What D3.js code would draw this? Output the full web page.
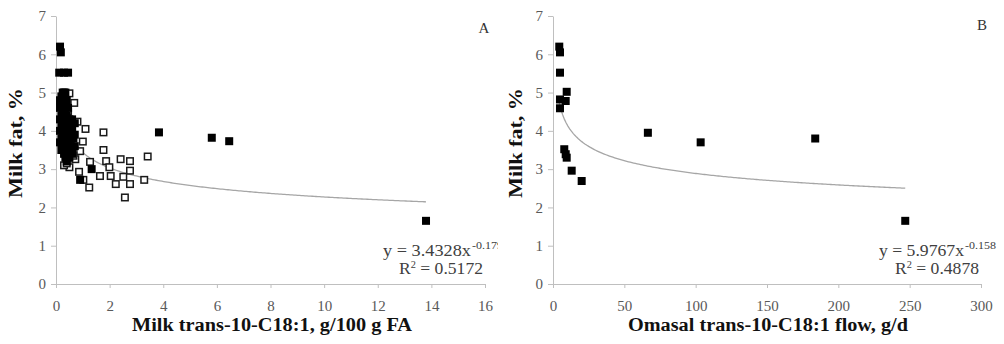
<!DOCTYPE html>
<html><head><meta charset="utf-8">
<script src="https://cdn.jsdelivr.net/npm/d3@7"></script>
<style>
html,body{margin:0;padding:0;background:#fff;}
svg{display:block;}
text{font-family:"Liberation Serif","Times New Roman",serif;}
</style></head>
<body>
<svg id="c" width="1004" height="344"></svg>
<script>
// ---------- DATA ----------
// Panel A: milk trans-10 C18:1 (g/100 g FA) vs milk fat (%)
const aFilledX = [0.15,0.18,0.12,0.3,0.45,
  0.25,0.3,0.35, 0.2,0.3, 0.15,0.25,0.4, 0.2,0.3, 0.15,0.35,0.45, 0.25,0.3, 0.2,0.4,
  0.15,0.3,0.5,0.6, 0.25,0.45,0.7, 0.2,0.35,0.55, 0.15,0.3,0.45,0.6, 0.25,0.4,0.7,
  0.2,0.35,0.5,0.65, 0.15,0.3,0.45, 0.25,0.4,0.55,0.7, 0.2,0.35,0.5, 0.3,0.45,0.6, 0.35,0.5, 0.4,
  0.9,1.33,3.84,5.81,6.46,13.8];
const aFilledY = [6.2,6.05,5.52,5.52,5.52,
  5.0,5.0,5.0, 4.9,4.9, 4.8,4.8,4.8, 4.7,4.7, 4.6,4.6,4.6, 4.5,4.5, 4.4,4.4,
  4.3,4.3,4.3,4.3, 4.2,4.2,4.2, 4.1,4.1,4.1, 4.0,4.0,4.0,4.0, 3.9,3.9,3.9,
  3.8,3.8,3.8,3.8, 3.7,3.7,3.7, 3.6,3.6,3.6,3.6, 3.5,3.5,3.5, 3.4,3.4,3.4, 3.3,3.3, 3.2,
  2.72,3.0,3.96,3.82,3.73,1.65];
const aOpenX = [0.5,0.68,0.8,1.1,1.77,1.0,1.77,0.9,3.42,2.41,2.76,1.87,1.27,0.72,0.5,1.99,
  2.76,1.64,2.04,0.86,2.51,2.23,2.76,3.29,1.24,2.57,1.02,0.6,0.45,0.3,0.55,0.65,0.4];
const aOpenY = [4.98,4.73,4.24,4.05,3.96,3.72,3.5,3.47,3.33,3.26,3.21,3.21,3.19,3.26,3.05,3.05,
  2.96,2.82,2.82,2.93,2.8,2.61,2.61,2.72,2.52,2.26,2.72,4.0,4.5,3.1,3.55,3.35,3.15];
// Panel B: omasal trans-10 C18:1 flow (g/d) vs milk fat (%)
const bX = [4.4,4.9,4.9,9.6,4.9,8.9,4.9,7.9,8.9,9.6,13.1,20.1,66.5,103.5,183.8,246.9];
const bY = [6.2,6.05,5.52,5.02,4.82,4.78,4.59,3.52,3.39,3.3,2.96,2.69,3.95,3.7,3.8,1.65];
// Fitted power trendlines (as printed on the chart)
const aFit = {a:3.4328, b:-0.179, r2:"0.5172", bText:"-0.179"};
const bFit = {a:5.9767, b:-0.158, r2:"0.4878", bText:"-0.158"};
// Axis ticks
const aXTicks = [0,2,4,6,8,10,12,14,16];
const bXTicks = [0,50,100,150,200,250,300];
const yTicks = [0,1,2,3,4,5,6,7];

// ---------- DRAW ----------
const svg = d3.select("#c");
const defs = svg.append("defs");
defs.append("clipPath").attr("id","clipA").append("rect").attr("x",0).attr("y",0).attr("width",498).attr("height",344);
defs.append("clipPath").attr("id","clipB").append("rect").attr("x",498).attr("y",0).attr("width",501).attr("height",344);

const SERIF = "'Liberation Serif','Times New Roman',serif";

function panel(opt){
  const g = svg.append("g").attr("clip-path", "url(#"+opt.clip+")");
  const x = d3.scaleLinear().domain(opt.xDomain).range(opt.xRange);
  const y = d3.scaleLinear().domain([0,7]).range([284,16]);
  const axisCol = "#bfbfbf", labCol = "#595959";

  // Y axis
  const ya = g.append("g").attr("transform","translate("+opt.xRange[0]+",0)")
    .call(d3.axisLeft(y).tickValues(yTicks).tickFormat(d3.format("d")).tickSize(5).tickSizeOuter(0).tickPadding(5))
    .attr("font-family",SERIF).attr("font-size",15);
  ya.select(".domain").attr("stroke",axisCol);
  ya.selectAll(".tick line").attr("stroke",axisCol);
  ya.selectAll(".tick text").attr("fill",labCol);

  // X axis
  const xa = g.append("g").attr("transform","translate(0,284)")
    .call(d3.axisBottom(x).tickValues(opt.xTicks).tickFormat(d3.format("d")).tickSize(4).tickSizeOuter(0).tickPadding(12))
    .attr("font-family",SERIF).attr("font-size",15);
  xa.select(".domain").attr("stroke",axisCol);
  xa.selectAll(".tick line").attr("stroke",axisCol);
  xa.selectAll(".tick text").attr("fill",labCol);

  // Trendline
  const xs = d3.range(0,201).map(i => opt.fitMin + (opt.fitMax-opt.fitMin)*i/200);
  const line = d3.line().x(d=>x(d)).y(d=>y(opt.fit.a*Math.pow(d,opt.fit.b)));
  g.append("path").datum(xs).attr("d",line).attr("fill","none").attr("stroke","#a6a6a6").attr("stroke-width",1.3);

  const s = 8;
  // open squares
  if(opt.openX){
    g.selectAll(".o").data(opt.openX.map((v,i)=>[v,opt.openY[i]])).enter().append("rect")
      .attr("x",d=>x(d[0])-s/2+0.75).attr("y",d=>y(d[1])-s/2+0.75)
      .attr("width",s-1.5).attr("height",s-1.5)
      .attr("fill","#fff").attr("stroke","#1a1a1a").attr("stroke-width",1.5);
  }
  // filled squares
  g.selectAll(".f").data(opt.filledX.map((v,i)=>[v,opt.filledY[i]])).enter().append("rect")
    .attr("x",d=>x(d[0])-s/2).attr("y",d=>y(d[1])-s/2)
    .attr("width",s).attr("height",s).attr("fill","#000");

  // equation
  g.append("text").attr("x",opt.eqX).attr("y",256).attr("fill","#404040").style("font-size","17px")
    .attr("textLength",opt.eqW).attr("lengthAdjust","spacingAndGlyphs")
    .text("y = "+opt.fit.a.toFixed(4)+"x");
  g.append("text").attr("x",opt.eqX+opt.eqW+1).attr("y",249).attr("fill","#404040").style("font-size","11px")
    .attr("textLength",31).attr("lengthAdjust","spacingAndGlyphs").text(opt.fit.bText);
  const r = g.append("text").attr("x",opt.r2X).attr("y",274).attr("fill","#404040").style("font-size","17px")
    .attr("textLength",84).attr("lengthAdjust","spacingAndGlyphs");
  r.append("tspan").text("R");
  r.append("tspan").attr("dy",-6).style("font-size","10px").text("2");
  r.append("tspan").attr("dy",6).text(" = "+opt.fit.r2);

  // axis titles
  g.append("text").attr("x",opt.xTitleX).attr("y",331).attr("text-anchor","middle")
    .attr("fill","#111").style("font-weight","bold").style("font-size","18px")
    .attr("textLength",280).attr("lengthAdjust","spacingAndGlyphs").text(opt.xTitle);
  g.append("text").attr("transform","translate("+opt.yTitleX+",143) rotate(-90)").attr("text-anchor","middle")
    .attr("fill","#111").style("font-weight","bold").style("font-size","18px")
    .attr("textLength",110).attr("lengthAdjust","spacingAndGlyphs").text("Milk fat, %");
  // panel letter
  g.append("text").attr("x",opt.letterX).attr("y",opt.letterY).attr("text-anchor","middle")
    .attr("fill","#333").style("font-size","15px").text(opt.letter);
}

panel({clip:"clipA", xDomain:[0,16], xRange:[56,485], xTicks:aXTicks,
  filledX:aFilledX, filledY:aFilledY, openX:aOpenX, openY:aOpenY,
  fit:aFit, fitMin:0.12, fitMax:13.8, eqX:383, eqW:88, r2X:399,
  xTitle:"Milk trans-10-C18:1, g/100 g FA", xTitleX:272, yTitleX:22, letter:"A", letterX:484, letterY:33});
panel({clip:"clipB", xDomain:[0,300], xRange:[553,981], xTicks:bXTicks,
  filledX:bX, filledY:bY, fit:bFit, fitMin:4.4, fitMax:246.9, eqX:879, eqW:85, r2X:895,
  xTitle:"Omasal trans-10-C18:1 flow, g/d", xTitleX:768, yTitleX:522, letter:"B", letterX:982, letterY:30});
</script>
</body></html>
